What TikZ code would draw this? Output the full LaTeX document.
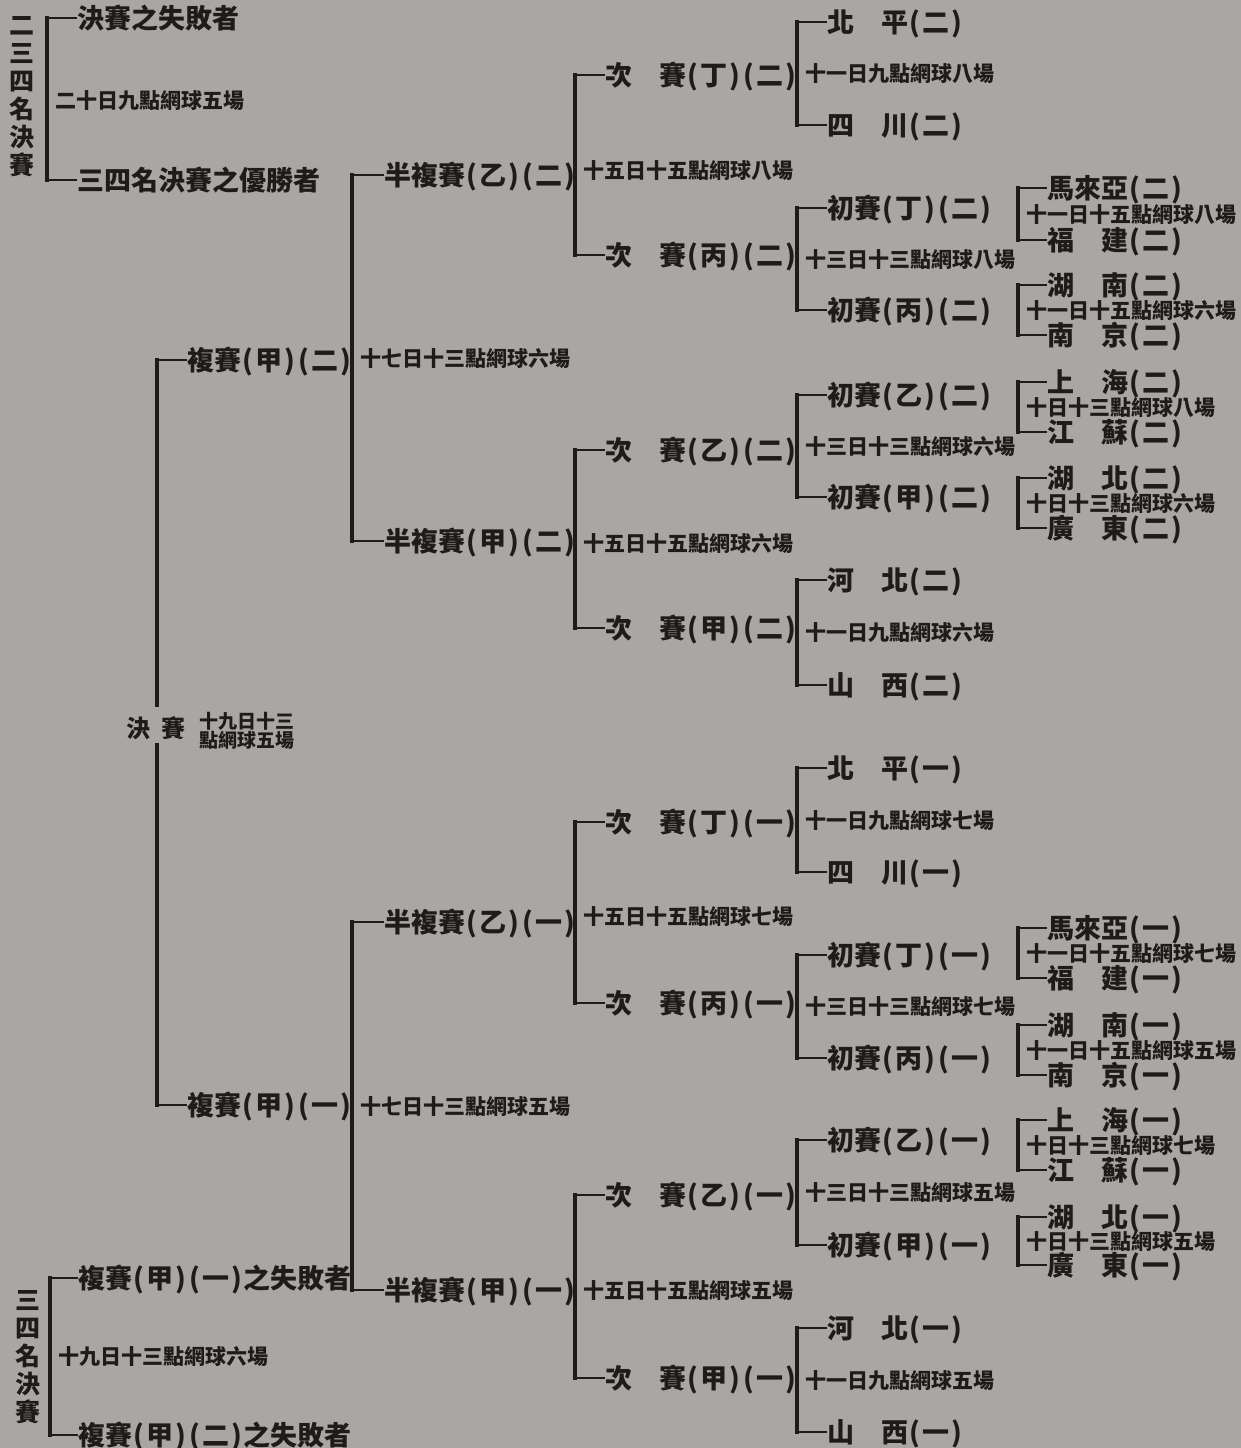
\documentclass[tikz,border=0pt]{standalone}
\usepackage{fontspec}
\newfontfamily\cjk{Noto Sans CJK TC}
\usetikzlibrary{calc}
\definecolor{paper}{RGB}{168,167,163}
\definecolor{inkc}{RGB}{30,28,27}
\newcommand\grp[1]{\kern1.5pt(\kern2pt#1\kern2pt)\kern1.5pt}
\tikzset{
  lab/.style={font=\cjk\bfseries\fontsize{27}{27}\selectfont, text=inkc, inner sep=0pt, anchor=west, text height=23.8pt, text depth=3.2pt},
  datet/.style={font=\cjk\bfseries\fontsize{21}{21}\selectfont, text=inkc, inner sep=0pt, anchor=west, text height=18.5pt, text depth=2.5pt},
  vtext/.style={font=\cjk\bfseries\fontsize{25}{28}\selectfont, text=inkc, inner sep=0pt, align=center},
  vbar/.style={draw=inkc, line width=4pt, line cap=rect},
  tickl/.style={draw=inkc, line width=2.5pt},
}
% name, x, ytop, ybot, label offset, top label, bottom label, middle text, middle text y shift
\newcommand\bkt[9]{%
  \coordinate (#1-t) at (#2,#3);
  \coordinate (#1-b) at (#2,#4);
  \node[lab] (#1-tl) at ($(#1-t)+(#5,0)$) {#6};
  \node[lab] (#1-bl) at ($(#1-b)+(#5,0)$) {#7};
  \node[datet] (#1-m) at ($(#1-t)!0.5!(#1-b)+(8,#9)$) {#8};
  \draw[vbar] (#1-t) -- (#1-b);
  \draw[tickl] (#1-t) -- (#1-tl.west);
  \draw[tickl] (#1-b) -- (#1-bl.west);
}
\begin{document}
\begin{tikzpicture}[x=1pt,y=-1pt]
\useasboundingbox (0,0) rectangle (1241,1448);
\fill[paper] (0,0) rectangle (1241,1448);

% ---- second/third place match (top left)
\node[vtext] (v23) at (22,97) {二\\三\\四\\名\\決\\賽};
\bkt{TL}{47}{18}{180}{30}{決賽之失敗者}{三四名決賽之優勝者}{二十日九點網球五場}{1}

% ---- third/fourth place match (bottom left)
\node[vtext] (v34) at (28,1357) {三\\四\\名\\決\\賽};
\bkt{BL}{50}{1278}{1435}{28}{複賽\grp{甲}\grp{一}之失敗者}{複賽\grp{甲}\grp{二}之失敗者}{十九日十三點網球六場}{0}

% ---- final
\coordinate (FN-t) at (157,360);
\coordinate (FN-b) at (157,1105);
\coordinate (FN-g1) at (157,705);
\coordinate (FN-g2) at (157,745);
\node[lab] (FN-tl) at (187,360) {複賽\grp{甲}\grp{二}};
\node[lab] (FN-bl) at (187,1105) {複賽\grp{甲}\grp{一}};
\node[font=\cjk\bfseries\fontsize{24}{24}\selectfont, text=inkc, inner sep=0pt] (FN-name) at (156,728) {決\hspace{11pt}賽};
\node[font=\cjk\bfseries\fontsize{19}{19}\selectfont, text=inkc, inner sep=0pt, anchor=west, align=left] (FN-m) at (199,731) {十九日十三\\點網球五場};
\draw[vbar] (FN-t) -- (FN-g1);
\draw[vbar] (FN-g2) -- (FN-b);
\draw[tickl] (FN-t) -- (FN-tl.west);
\draw[tickl] (FN-b) -- (FN-bl.west);

% ---- semifinals
\bkt{S2}{352}{175}{541}{32}{半複賽\grp{乙}\grp{二}}{半複賽\grp{甲}\grp{二}}{十七日十三點網球六場}{0}
\bkt{S1}{352}{922}{1290}{32}{半複賽\grp{乙}\grp{一}}{半複賽\grp{甲}\grp{一}}{十七日十三點網球五場}{0}

% ---- quarterfinals
\bkt{Q1}{575}{75}{255}{30}{次　賽\grp{丁}\grp{二}}{次　賽\grp{丙}\grp{二}}{十五日十五點網球八場}{5}
\bkt{Q2}{575}{450}{628}{30}{次　賽\grp{乙}\grp{二}}{次　賽\grp{甲}\grp{二}}{十五日十五點網球六場}{4}
\bkt{Q3}{575}{822}{1003}{30}{次　賽\grp{丁}\grp{一}}{次　賽\grp{丙}\grp{一}}{十五日十五點網球七場}{4}
\bkt{Q4}{575}{1195}{1378}{30}{次　賽\grp{乙}\grp{一}}{次　賽\grp{甲}\grp{一}}{十五日十五點網球五場}{4}

% ---- second round
\bkt{R1}{797}{22}{125}{30}{北　平\grp{二}}{四　川\grp{二}}{十一日九點網球八場}{0}
\bkt{R2}{797}{208}{310}{30}{初賽\grp{丁}\grp{二}}{初賽\grp{丙}\grp{二}}{十三日十三點網球八場}{0}
\bkt{R3}{797}{395}{497}{30}{初賽\grp{乙}\grp{二}}{初賽\grp{甲}\grp{二}}{十三日十三點網球六場}{0}
\bkt{R4}{797}{580}{685}{30}{河　北\grp{二}}{山　西\grp{二}}{十一日九點網球六場}{0}
\bkt{R5}{797}{768}{872}{30}{北　平\grp{一}}{四　川\grp{一}}{十一日九點網球七場}{0}
\bkt{R6}{797}{955}{1058}{30}{初賽\grp{丁}\grp{一}}{初賽\grp{丙}\grp{一}}{十三日十三點網球七場}{0}
\bkt{R7}{797}{1140}{1245}{30}{初賽\grp{乙}\grp{一}}{初賽\grp{甲}\grp{一}}{十三日十三點網球五場}{0}
\bkt{R8}{797}{1328}{1432}{30}{河　北\grp{一}}{山　西\grp{一}}{十一日九點網球五場}{0}

% ---- first round
\bkt{F1}{1018}{188}{240}{29}{馬來亞\grp{二}}{福　建\grp{二}}{十一日十五點網球八場}{0}
\bkt{F2}{1018}{285}{335}{29}{湖　南\grp{二}}{南　京\grp{二}}{十一日十五點網球六場}{0}
\bkt{F3}{1018}{382}{432}{29}{上　海\grp{二}}{江　蘇\grp{二}}{十日十三點網球八場}{0}
\bkt{F4}{1018}{478}{528}{29}{湖　北\grp{二}}{廣　東\grp{二}}{十日十三點網球六場}{0}
\bkt{F5}{1018}{928}{978}{29}{馬來亞\grp{一}}{福　建\grp{一}}{十一日十五點網球七場}{0}
\bkt{F6}{1018}{1025}{1075}{29}{湖　南\grp{一}}{南　京\grp{一}}{十一日十五點網球五場}{0}
\bkt{F7}{1018}{1120}{1170}{29}{上　海\grp{一}}{江　蘇\grp{一}}{十日十三點網球七場}{0}
\bkt{F8}{1018}{1217}{1265}{29}{湖　北\grp{一}}{廣　東\grp{一}}{十日十三點網球五場}{0}
\end{tikzpicture}
\end{document}
